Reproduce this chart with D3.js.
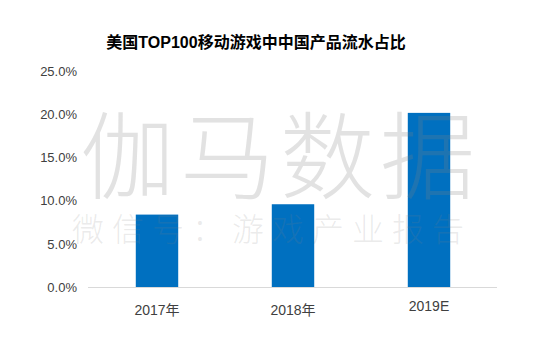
<!DOCTYPE html>
<html>
<head>
<meta charset="utf-8">
<script src="https://cdn.jsdelivr.net/npm/d3@7"></script>
<style>
  html, body { margin: 0; padding: 0; background: #fff; }
  svg { display: block; }
</style>
</head>
<body>
<svg id="chart" width="554" height="356"></svg>
<script>
const title = "美国TOP100移动游戏中中国产品流水占比";
const categories = ["2017年", "2018年", "2019E"];
const values = [8.4, 9.6, 20.2];
const yTicks = [0, 5, 10, 15, 20, 25];
const watermarkMain = "伽马数据";
const watermarkSub = "微信号：游戏产业报告";

const svg = d3.select("#chart");
const latinFont = "Arial, 'Liberation Sans', 'Noto Sans CJK SC', sans-serif";
const cjkFont = "'Noto Sans CJK SC', sans-serif";

const x = d3.scaleBand().domain(categories).range([89, 497])
  .paddingInner(0.688).paddingOuter(0.344);
const y = d3.scaleLinear().domain([0, 25]).range([287, 71.5]);

// title
svg.append("text")
  .attr("x", 256).attr("y", 48)
  .attr("text-anchor", "middle")
  .attr("font-family", latinFont)
  .attr("font-weight", "bold")
  .attr("font-size", 16)
  .attr("fill", "#000")
  .text(title);

// y axis labels (no line)
const yAxis = d3.axisLeft(y).tickValues(yTicks).tickSize(0).tickPadding(0)
  .tickFormat(d => d3.format(".1f")(d) + "%");
const gy = svg.append("g").attr("transform", "translate(77,0)").call(yAxis);
gy.select(".domain").remove();
gy.selectAll("text")
  .attr("font-family", latinFont)
  .attr("font-size", 13)
  .attr("fill", "#404040");

// bars
svg.append("g").selectAll("rect")
  .data(values)
  .join("rect")
  .attr("x", (d, i) => x(categories[i]))
  .attr("width", x.bandwidth())
  .attr("y", d => y(d))
  .attr("height", d => y(0) - y(d))
  .attr("fill", "#0070C0");

// x axis
const xAxis = d3.axisBottom(x).tickSize(0).tickPadding(0);
const gx = svg.append("g").attr("transform", `translate(0,${y(0)})`).call(xAxis);
gx.select(".domain").attr("stroke", "#d9d9d9").attr("d", "M88,0.5H497");
gx.selectAll("text")
  .attr("font-family", latinFont)
  .attr("font-size", 14)
  .attr("fill", "#404040")
  .attr("dy", null)
  .attr("y", d => /[\u4e00-\u9fff]/.test(d) ? 28 : 24);

// watermark
const wm = svg.append("g").attr("pointer-events", "none");
wm.append("text")
  .attr("x", 80).attr("y", 192)
  .attr("font-family", cjkFont)
  .attr("font-weight", 300)
  .attr("font-size", 95)
  .attr("letter-spacing", 5)
  .attr("fill", "#808080")
  .attr("fill-opacity", 0.23)
  .text(watermarkMain);
wm.append("text")
  .attr("x", 72).attr("y", 241)
  .attr("font-family", cjkFont)
  .attr("font-weight", 300)
  .attr("font-size", 32)
  .attr("letter-spacing", 8)
  .attr("fill", "#808080")
  .attr("fill-opacity", 0.17)
  .text(watermarkSub);
</script>
</body>
</html>
